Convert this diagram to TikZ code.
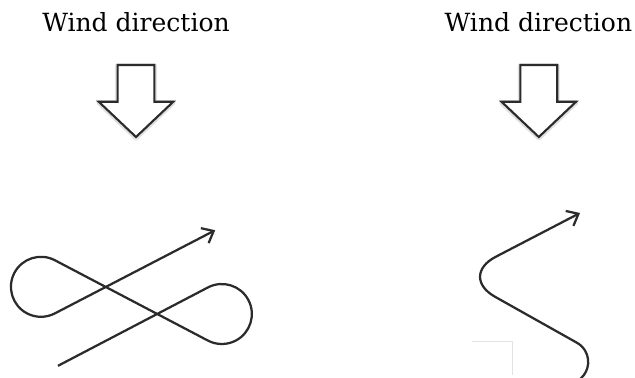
\documentclass[tikz,border=0pt]{standalone}
\usepackage{fontspec}
\setmainfont{DejaVu Serif}
\usepackage{xcolor}
\usetikzlibrary{arrows.meta}
\definecolor{WDInk}{HTML}{2B2B2B}
\definecolor{WDFaint}{HTML}{E2E2E2}

\begin{document}
\begin{tikzpicture}[x=1cm,y=1cm,
  windlabel/.style={anchor=base,font=\fontsize{17.8}{20}\selectfont},
  blockarrow/.style={draw=WDInk,fill=white,line width=1.5pt,line join=miter},
  arrowglow/.style={draw=black,opacity=0.12,line width=3.5pt,line join=round},
  flightpath/.style={draw=WDInk,line width=1.6pt,-{Straight Barb[length=2.5mm,width=4.2mm]}}]
\path[use as bounding box] (0,0) rectangle (15.875,9.425);
% labels
\node[windlabel] (lblA) at (3.40,8.65) {Wind direction};
\node[windlabel] (lblB) at (13.46,8.65) {Wind direction};
% block arrows
\draw[arrowglow] (3.40,5.98) -- (4.33,6.86) -- (3.86,6.86) -- (3.86,7.78) -- (2.94,7.78) -- (2.94,6.86) -- (2.47,6.86) -- cycle;
\draw[blockarrow] (3.40,6.00) -- (4.33,6.88) -- (3.86,6.88) -- (3.86,7.80) -- (2.94,7.80) -- (2.94,6.88) -- (2.47,6.88) -- cycle;
\draw[arrowglow] (13.47,5.98) -- (14.40,6.86) -- (13.93,6.86) -- (13.93,7.78) -- (13.01,7.78) -- (13.01,6.86) -- (12.54,6.86) -- cycle;
\draw[blockarrow] (13.47,6.00) -- (14.40,6.88) -- (13.93,6.88) -- (13.93,7.80) -- (13.01,7.80) -- (13.01,6.88) -- (12.54,6.88) -- cycle;
% figure eight
\draw[flightpath] (1.45,0.28) -- (5.20,2.24) arc[start angle=117.5,end angle=-117.5,radius=0.75]
  -- (1.37,2.92) arc[start angle=62.5,end angle=297.5,radius=0.75] -- (5.38,3.67);
% zigzag
\draw[flightpath] (14.43,-0.10) arc[start angle=-60,end angle=60.7,radius=0.55]
  [rounded corners=1.05cm] -- (11.46,2.52) -- (14.50,4.10);
\draw[WDFaint,line width=0.6pt] (11.80,0.88) -- (12.80,0.88) -- (12.80,0.05);
\end{tikzpicture}
\end{document}
